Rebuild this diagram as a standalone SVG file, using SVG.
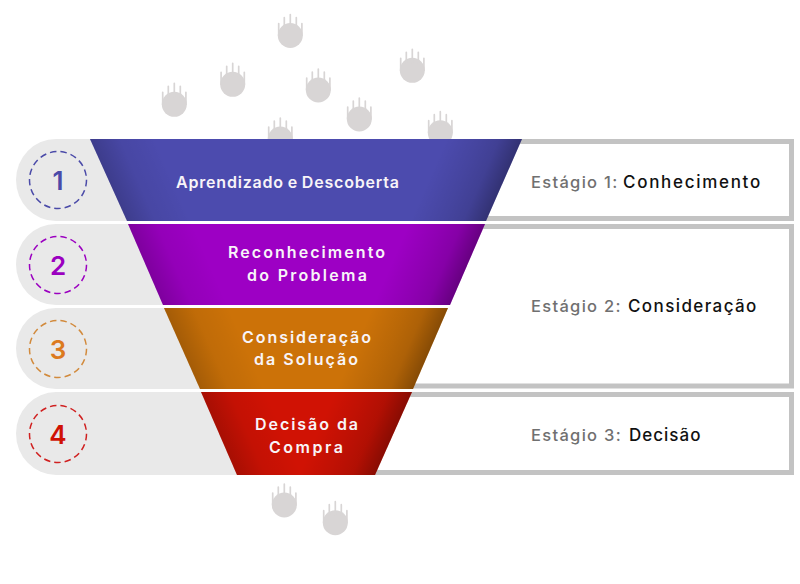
<svg xmlns="http://www.w3.org/2000/svg" width="800" height="584" viewBox="0 0 800 584">
<style>
.pill{fill:#e9e9e9}
.frame{fill:none;stroke:#c3c3c3;stroke-width:5}
.t{font-family:"Inter","Liberation Sans",sans-serif;font-weight:600;font-size:16px;fill:#f8f4f8}
.s{font-family:"Inter","Liberation Sans",sans-serif;font-weight:500;font-size:16.500px;letter-spacing:1.300px;fill:#707070}
.s tspan{fill:#111;font-size:17px;letter-spacing:1.400px}
.n{font-family:"Inter","Liberation Sans",sans-serif;font-weight:600;font-size:26px;text-anchor:middle}
.c{fill:none;stroke-width:1.5;stroke-dasharray:6.500 4}
.paw circle{fill:#d8d5d5}
.paw path{fill:none;stroke:#d8d5d5;stroke-width:1.700;stroke-linecap:round}
.l{fill:url(#edgeL)}
.r{fill:url(#edgeR)}
</style>
<defs>
<g id="pawshape" class="paw">
<circle r="12.5"/>
<path d="M-11.600 0V-12M-6 -8V-18M0 -8V-21M6 -8V-18M11.600 0V-12"/>
</g>
<linearGradient id="edgeL" gradientUnits="userSpaceOnUse" x1="90" y1="139" x2="145" y2="115"><stop offset="0" stop-color="#000" stop-opacity=".2"/><stop offset=".45" stop-color="#000" stop-opacity=".06"/><stop offset=".75" stop-color="#000" stop-opacity=".03"/><stop offset="1" stop-color="#000" stop-opacity="0"/></linearGradient>
<linearGradient id="edgeR" gradientUnits="userSpaceOnUse" x1="522" y1="139" x2="458" y2="111"><stop offset="0" stop-color="#000" stop-opacity=".34"/><stop offset=".3" stop-color="#000" stop-opacity=".15"/><stop offset=".55" stop-color="#000" stop-opacity=".09"/><stop offset="1" stop-color="#000" stop-opacity="0"/></linearGradient>
</defs>
<g id="paws">
<use href="#pawshape" x="290.3" y="35.500"/>
<use href="#pawshape" x="232.7" y="84.3"/>
<use href="#pawshape" x="174.3" y="104.3"/>
<use href="#pawshape" x="318.3" y="90"/>
<use href="#pawshape" x="412.3" y="70.3"/>
<use href="#pawshape" x="359.3" y="119"/>
<use href="#pawshape" x="280.3" y="139"/>
<use href="#pawshape" x="440.3" y="132.7"/>
<use href="#pawshape" x="284.3" y="505"/>
<use href="#pawshape" x="335.3" y="522.7"/>
</g>
<g id="stage1"><path class="frame" d="M470 141.500H791.500V218.500H470"/><text class="s" x="531" y="187.500">Estágio 1: <tspan x="623" style="letter-spacing:1.700px">Conhecimento</tspan></text></g>
<g id="stage2"><path class="frame" d="M470 226.500H791.500V386H400"/><text class="s" x="531" y="311.500">Estágio 2: <tspan x="628">Consideração</tspan></text></g>
<g id="stage3"><path class="frame" d="M400 394.500H791.500V472.500H360"/><text class="s" x="531" y="440.500">Estágio 3: <tspan x="629" style="letter-spacing:1px">Decisão</tspan></text></g>
<g id="step1">
<path class="pill" d="M56 139H135V221H56A40 41 0 0 1 16 180A40 41 0 0 1 56 139Z"/>
<path d="M90 139H522L486 221H127Z" fill="#4c4bae"/>
<path class="l" d="M90 139H522L486 221H127Z"/><path class="r" d="M90 139H522L486 221H127Z"/>
<circle class="c" cx="58" cy="180" r="28.500" stroke="#4a4aa8"/>
<text class="n" x="58" y="189.500" fill="#4a4aa8">1</text>
<text class="t" x="176" y="187.500" textLength="223" word-spacing="-1">Aprendizado e Descoberta</text>
</g>
<g id="step2">
<path class="pill" d="M56 224H170V305H56A40 40.500 0 0 1 16 264.500A40 40.500 0 0 1 56 224Z"/>
<path d="M128 224H485L450 305H163Z" fill="#9d00c4"/>
<path class="l" d="M128 224H485L450 305H163Z"/><path class="r" d="M128 224H485L450 305H163Z"/>
<circle class="c" cx="58" cy="265" r="28.500" stroke="#9b00c0"/>
<text class="n" x="58" y="274.500" fill="#9b00c0">2</text>
<text class="t" x="228" y="258" textLength="157">Reconhecimento</text>
<text class="t" x="247" y="281" textLength="120">do Problema</text>
</g>
<g id="step3">
<path class="pill" d="M56 308H205V389H56A40 40.500 0 0 1 16 348.500A40 40.500 0 0 1 56 308Z"/>
<path d="M164 308H448L413 389H200Z" fill="#cc7208"/>
<path class="l" d="M164 308H448L413 389H200Z"/><path class="r" d="M164 308H448L413 389H200Z"/>
<circle class="c" cx="58" cy="349" r="28.500" stroke="#d28a3c"/>
<text class="n" x="58" y="359" fill="#dc7a1e">3</text>
<text class="t" x="242" y="343" textLength="129">Consideração</text>
<text class="t" x="254" y="365" textLength="104">da Solução</text>
</g>
<g id="step4">
<path class="pill" d="M56 392H240V475H56A40 41.500 0 0 1 16 433.500A40 41.500 0 0 1 56 392Z"/>
<path d="M201 392H412L375 475H237Z" fill="#d01204"/>
<path class="l" d="M201 392H412L375 475H237Z"/><path class="r" d="M201 392H412L375 475H237Z"/>
<circle class="c" cx="58" cy="434" r="28.500" stroke="#d02020"/>
<text class="n" x="58" y="444" fill="#d01204">4</text>
<text class="t" x="255" y="430" textLength="103">Decisão da</text>
<text class="t" x="269" y="453" textLength="74">Compra</text>
</g>
</svg>
